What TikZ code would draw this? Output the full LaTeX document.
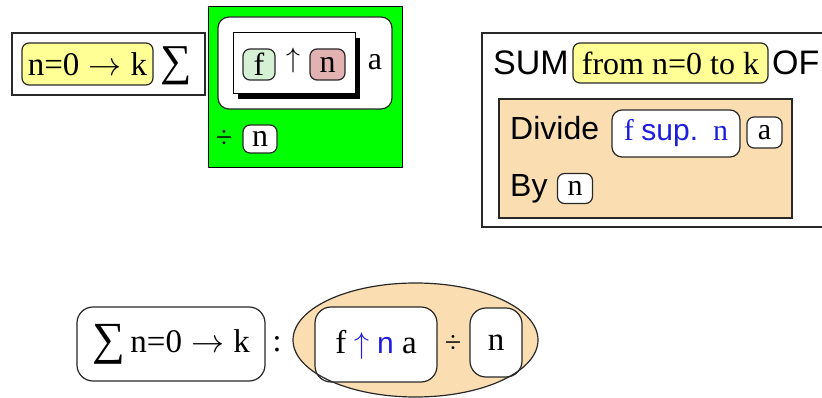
\RequirePackage{fix-cm}
\documentclass[tikz,border=0pt]{standalone}
\usepackage{fontspec}
\setmainfont{Liberation Serif}
\setsansfont{Liberation Sans}
\usetikzlibrary{shadows,shapes.geometric}
\definecolor{yel}{RGB}{255,255,150}
\definecolor{grn}{RGB}{0,255,0}
\definecolor{lgrn}{RGB}{214,240,214}
\definecolor{pnk}{RGB}{226,178,178}
\definecolor{tan}{RGB}{250,222,178}
\definecolor{blu}{RGB}{30,30,220}
\definecolor{edge}{RGB}{40,40,40}
\newcommand\rarr{\ensuremath{\mskip5mu\rightarrow\mskip5mu}}
\newcommand\uarr{\ensuremath{\uparrow}}
\tikzset{
  sq/.style={draw=edge, line width=1.3pt, inner sep=0pt, fill=white},
  rb/.style={draw=edge, line width=1.2pt, inner sep=0pt, rounded corners=7pt, fill=white},
  txt/.style={inner sep=0pt},
}
\begin{document}
\begin{tikzpicture}[x=1pt,y=-1pt]
\useasboundingbox (0,0) rectangle (822,398);
\clip (0,0) rectangle (822,398);
% ---- left panel
\node[sq, minimum width=193pt, minimum height=62pt] (outerA) at (108.5,64) {};
\node[rb, fill=yel, minimum width=131pt, minimum height=42pt] (yelA) at (87.5,64) {\fontsize{33}{36}\selectfont n=0\rarr k};
\node[txt] (sigA) at (176,66) {\fontsize{44}{48}\selectfont ∑};
% ---- green panel
\node[draw=black, line width=1pt, fill=grn, inner sep=0pt, minimum width=194pt, minimum height=161pt] (green) at (305,87.5) {};
\node[rb, rounded corners=11pt, minimum width=174pt, minimum height=92pt] (wround) at (305,63) {};
\node[draw=black, line width=1pt, fill=white, inner sep=0pt, minimum width=122pt, minimum height=61pt,
  drop shadow={shadow xshift=5pt, shadow yshift=-5pt, fill=black, opacity=1}] (inner) at (294,63.5) {};
\node[rb, fill=lgrn, minimum width=32pt, minimum height=31pt] (fA) at (259,64.5) {\fontsize{32}{36}\selectfont f};
\node[txt] (upA) at (293,61) {\fontsize{28}{32}\selectfont \uarr};
\node[rb, fill=pnk, minimum width=35pt, minimum height=31pt] (nA) at (327.5,64.5) {\fontsize{32}{36}\selectfont n};
\node[txt] (aA) at (375,62) {\fontsize{32}{36}\selectfont a};
\node[txt] (divA) at (224,139) {\fontsize{30}{34}\selectfont ÷};
\node[rb, minimum width=34pt, minimum height=28pt] (nB) at (260,139) {\fontsize{32}{36}\selectfont n};
% ---- right panel
\node[sq, minimum width=360pt, minimum height=194pt] (outerR) at (662,130) {};
\node[txt, anchor=base west] (sum) at (493,75) {\sffamily\fontsize{34}{36}\selectfont SUM};
\node[rb, fill=yel, minimum width=195pt, minimum height=40pt] (yelR) at (670.5,63) {\fontsize{32}{34}\selectfont from n=0 to k};
\node[txt, anchor=base west] (of) at (772,75) {\sffamily\fontsize{34}{36}\selectfont OF};
\node[draw=edge, line width=1.3pt, fill=tan, inner sep=0pt, minimum width=293pt, minimum height=119pt] (tanbox) at (645.5,158.5) {};
\node[txt, anchor=base west] (divide) at (510,140) {\sffamily\fontsize{32}{36}\selectfont Divide};
\node[rb, rounded corners=10pt, minimum width=128pt, minimum height=47pt] (sup) at (676,133.5) {\color{blu}\fontsize{30}{34}\selectfont f {\sffamily sup.}\ \ n};
\node[rb, minimum width=35pt, minimum height=31pt] (aR) at (764.5,132.5) {\fontsize{30}{34}\selectfont a};
\node[txt, anchor=base west] (by) at (510,197) {\sffamily\fontsize{32}{36}\selectfont By};
\node[rb, minimum width=35pt, minimum height=30pt] (nR) at (575,188.5) {\fontsize{30}{34}\selectfont n};
% ---- bottom
\node[rb, rounded corners=16pt, minimum width=188pt, minimum height=74pt] (sumB) at (171,344) {\raisebox{-2pt}{\fontsize{46}{48}\selectfont ∑}\fontsize{33}{36}\selectfont\,n=0\rarr k};
\node[txt] (colon) at (277,344) {\fontsize{32}{36}\selectfont :};
\node[ellipse, fill=tan, inner sep=0pt, minimum width=245pt, minimum height=114pt] (ell) at (415.5,340) {};
\node[rb, rounded corners=16pt, minimum width=122pt, minimum height=75pt] (fna) at (376,344.5) {\fontsize{33}{36}\selectfont f {\color{blu}\fontsize{30}{34}\selectfont\uarr\ \sffamily n} a};
\node[txt] (divB) at (453,344) {\fontsize{30}{34}\selectfont ÷};
\node[rb, rounded corners=16pt, minimum width=52pt, minimum height=69pt] (nBot) at (496,342.5) {\fontsize{33}{36}\selectfont n};
\draw[edge, line width=1.2pt] (ell.center) ellipse [x radius=122.5pt, y radius=57pt];
\end{tikzpicture}
\end{document}
